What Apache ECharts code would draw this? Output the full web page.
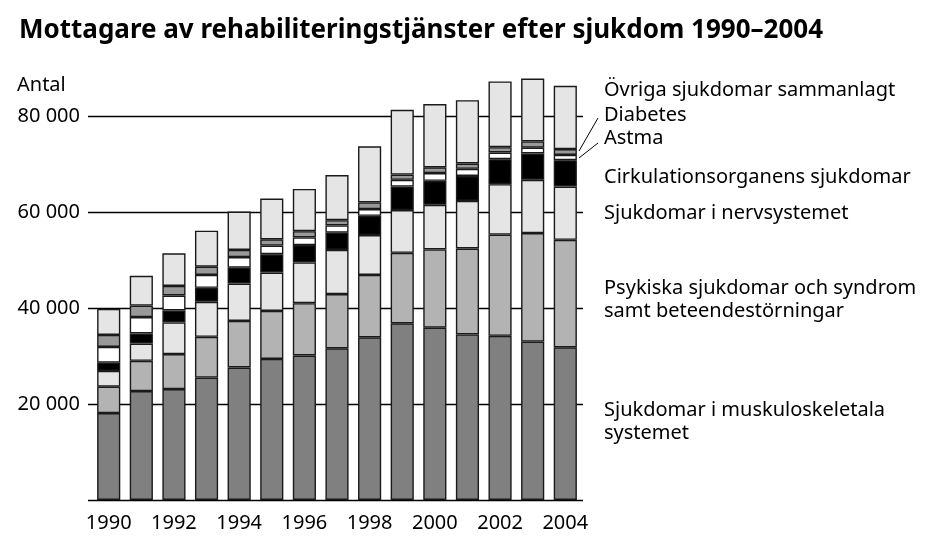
<!DOCTYPE html>
<html>
<head>
<meta charset="utf-8">
<script src="https://cdn.jsdelivr.net/npm/echarts@6/dist/echarts.min.js"></script>
<style>
html, body { margin: 0; padding: 0; background: #fff; }
#main_chart { width: 929px; height: 539px; }
</style>
</head>
<body>
<div id="main_chart"></div>
<script>
// data, thousands
var years = ['1990', '1991', '1992', '1993', '1994', '1995', '1996', '1997', '1998', '1999', '2000', '2001', '2002', '2003', '2004'];
var muskulo  = [18.1, 22.7, 23.1, 25.5, 27.6, 29.4, 30.1, 31.6, 33.9, 36.8, 35.9, 34.5, 34.2, 33.0, 31.8];
var psykiska = [5.5, 6.3, 7.3, 8.5, 9.7, 10.0, 10.9, 11.3, 13.0, 14.7, 16.3, 17.9, 21.1, 22.6, 22.4];
var nerv     = [3.3, 3.6, 6.6, 7.3, 7.8, 8.0, 8.5, 9.2, 8.3, 8.9, 9.3, 9.9, 10.5, 11.1, 11.1];
var cirk     = [1.7, 2.1, 2.5, 2.9, 3.3, 3.8, 3.6, 3.6, 4.0, 4.9, 5.0, 5.2, 5.2, 5.5, 5.5];
var astma    = [3.3, 3.4, 3.1, 2.7, 2.2, 1.8, 1.6, 1.5, 1.4, 1.4, 1.6, 1.5, 1.4, 1.2, 1.1];
var diabetes = [2.5, 2.4, 2.0, 1.7, 1.5, 1.3, 1.3, 1.1, 1.4, 1.1, 1.2, 1.1, 1.1, 1.3, 1.2];
var ovriga   = [5.4, 6.2, 6.8, 7.5, 8.0, 8.5, 8.8, 9.4, 11.7, 13.5, 13.2, 13.2, 13.7, 13.1, 13.2];

var yTicks = [20000, 40000, 60000, 80000];

var FONT = '"Noto Sans", sans-serif';

function toCount(arr) {
	var out = [];
	for (var i = 0; i < arr.length; i++) {
		out.push(Math.round(arr[i] * 1000));
	}
	return out;
}

function makeSeries(name, arr, color) {
	return {
		name: name,
		type: 'bar',
		stack: 'total',
		xAxisIndex: 1,
		yAxisIndex: 1,
		barWidth: '71%',
		itemStyle: {
			color: color,
			borderColor: '#1a1a1a',
			borderWidth: 1.4
		},
		data: toCount(arr)
	};
}

function fmt(v) {
	if (yTicks.indexOf(v) < 0) return '';
	return String(v).replace(/\B(?=(\d{3})+(?!\d))/g, ' ');
}

function makeChart() {
	var chart = echarts.init(document.getElementById('main_chart'));

	var rightLabels = [
		['Övriga sjukdomar sammanlagt', 90],
		['Diabetes', 115],
		['Astma', 138],
		['Cirkulationsorganens sjukdomar', 177],
		['Sjukdomar i nervsystemet', 213],
		['Psykiska sjukdomar och syndrom\nsamt beteendestörningar', 300],
		['Sjukdomar i muskuloskeletala\nsystemet', 422]
	];

	var graphics = [{
		type: 'text',
		left: 17,
		top: 75,
		style: { text: 'Antal', font: '20px ' + FONT, fill: '#000' }
	}];
	for (var i = 0; i < rightLabels.length; i++) {
		graphics.push({
			type: 'text',
			x: 604,
			y: rightLabels[i][1],
			style: {
				text: rightLabels[i][0],
				font: '20px ' + FONT,
				lineHeight: 23,
				fill: '#000',
				verticalAlign: 'middle'
			}
		});
	}
	// leader lines for the two thin bands
	graphics.push({
		type: 'line',
		shape: { x1: 579, y1: 151, x2: 598, y2: 118 },
		style: { stroke: '#000', lineWidth: 1 }
	});
	graphics.push({
		type: 'line',
		shape: { x1: 579, y1: 158, x2: 598, y2: 143 },
		style: { stroke: '#000', lineWidth: 1 }
	});

	var option = {
		animation: false,
		title: {
			text: 'Mottagare av rehabiliteringstjänster efter sjukdom 1990–2004',
			left: 14,
			top: 13,
			textStyle: { fontFamily: FONT, fontSize: 26, fontWeight: 'bold', color: '#000' }
		},
		graphic: graphics,
		grid: [
			{ left: 88, right: 346, top: 68, bottom: 39 },
			{ left: 92.4, right: 347.4, top: 68, bottom: 39 }
		],
		xAxis: [{
			type: 'value',
			gridIndex: 0,
			show: false
		}, {
			type: 'category',
			gridIndex: 1,
			data: years,
			axisLine: { show: false },
			axisTick: { show: false },
			axisLabel: {
				interval: 1,
				margin: 13,
				fontFamily: FONT,
				fontSize: 20,
				color: '#000'
			}
		}],
		yAxis: [{
			type: 'value',
			gridIndex: 0,
			min: 0,
			max: 90000,
			interval: 20000,
			axisLine: { show: false },
			axisTick: { show: false },
			axisLabel: {
				margin: 8,
				fontFamily: FONT,
				fontSize: 20,
				color: '#000',
				formatter: fmt
			},
			splitLine: {
				show: true,
				showMinLine: true,
				showMaxLine: false,
				lineStyle: { color: '#000', width: 1.3 }
			}
		}, {
			type: 'value',
			gridIndex: 1,
			min: 0,
			max: 90000,
			show: false,
			splitLine: { show: false }
		}],
		series: [
			makeSeries('Sjukdomar i muskuloskeletala systemet', muskulo, '#808080'),
			makeSeries('Psykiska sjukdomar och syndrom samt beteendestörningar', psykiska, '#b3b3b3'),
			makeSeries('Sjukdomar i nervsystemet', nerv, '#e5e5e5'),
			makeSeries('Cirkulationsorganens sjukdomar', cirk, '#000000'),
			makeSeries('Astma', astma, '#ffffff'),
			makeSeries('Diabetes', diabetes, '#999999'),
			makeSeries('Övriga sjukdomar sammanlagt', ovriga, '#e5e5e5')
		]
	};

	chart.setOption(option);
}

makeChart();
</script>
</body>
</html>
